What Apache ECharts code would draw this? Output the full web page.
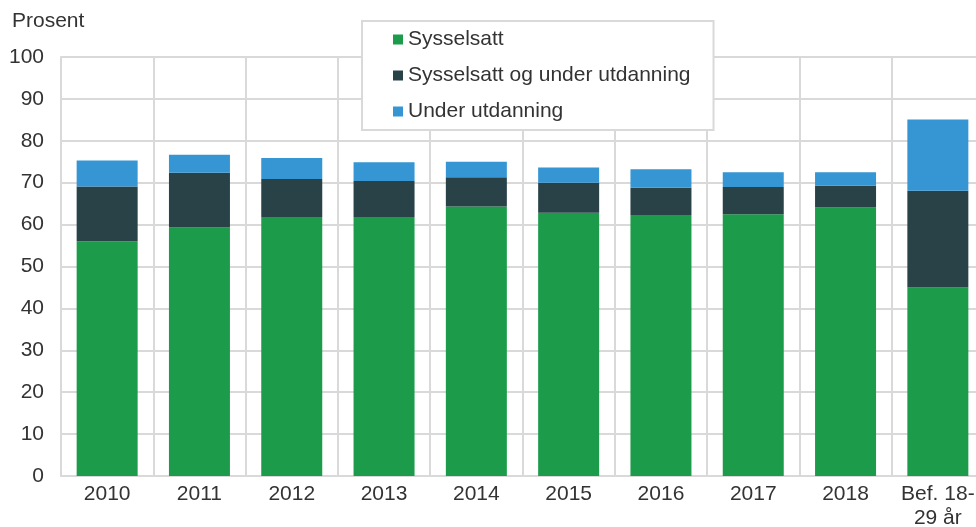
<!DOCTYPE html>
<html>
<head>
<meta charset="utf-8">
<script src="https://cdn.jsdelivr.net/npm/echarts@6/dist/echarts.min.js"></script>
<style>
  html, body { margin: 0; padding: 0; background: #fff; }
  #chart { width: 976px; height: 527px; }
</style>
</head>
<body>
<div id="chart"></div>
<script>
const categories = ['2010', '2011', '2012', '2013', '2014', '2015', '2016', '2017', '2018', 'Bef. 18-\n29 år'];
const sysselsatt = [56.0, 59.3, 61.8, 61.8, 64.3, 62.8, 62.3, 62.5, 64.1, 45.0];
const sysselsattUtdanning = [13.1, 13.1, 9.1, 8.6, 7.0, 7.2, 6.5, 6.5, 5.2, 23.1];
const underUtdanning = [6.2, 4.3, 5.0, 4.5, 3.7, 3.6, 4.4, 3.5, 3.2, 17.0];
const yTicks = [0, 10, 20, 30, 40, 50, 60, 70, 80, 90, 100];

const font = 'Liberation Sans, Arial, sans-serif';
const textColor = '#333333';
const gridColor = '#d9d9d9';

const chart = echarts.init(document.getElementById('chart'));

function barSeries(name, data, color) {
  return {
    name: name,
    type: 'bar',
    stack: 'total',
    data: data,
    barWidth: 61,
    itemStyle: { color: color },
    emphasis: { disabled: true }
  };
}

chart.setOption({
  animation: false,
  textStyle: { fontFamily: font },
  title: {
    text: 'Prosent',
    left: 12,
    top: 11,
    padding: 0,
    textStyle: { fontSize: 21, fontWeight: 'normal', color: textColor, fontFamily: font }
  },
  legend: {
    orient: 'vertical',
    left: 362,
    top: 21,
    z: 10,
    backgroundColor: '#ffffff',
    borderColor: gridColor,
    borderWidth: 2,
    padding: [8, 23, 8, 31],
    itemGap: 15,
    itemWidth: 10,
    itemHeight: 10,
    icon: 'rect',
    selectedMode: false,
    textStyle: { fontSize: 21, color: textColor, fontFamily: font, lineHeight: 21 },
    data: ['Sysselsatt', 'Sysselsatt og under utdanning', 'Under utdanning']
  },
  grid: { left: 61, right: -8, top: 57, bottom: 51, containLabel: false, outerBoundsMode: 'none' },
  xAxis: {
    type: 'category',
    data: categories,
    axisLine: { show: true, lineStyle: { color: gridColor, width: 2 } },
    axisTick: { show: false },
    splitLine: { show: true, lineStyle: { color: gridColor, width: 2 } },
    axisLabel: {
      color: textColor, fontSize: 21, fontFamily: font, margin: 6,
      lineHeight: 24, interval: 0
    }
  },
  yAxis: {
    type: 'value',
    min: yTicks[0],
    max: yTicks[yTicks.length - 1],
    interval: 10,
    axisLine: { show: true, lineStyle: { color: gridColor, width: 2 } },
    axisTick: { show: false },
    splitLine: { show: true, lineStyle: { color: gridColor, width: 2 } },
    axisLabel: { color: textColor, fontSize: 21, fontFamily: font, margin: 17 }
  },
  series: [
    barSeries('Sysselsatt', sysselsatt, '#1c9c4a'),
    barSeries('Sysselsatt og under utdanning', sysselsattUtdanning, '#284248'),
    barSeries('Under utdanning', underUtdanning, '#3596d3')
  ]
});
</script>
</body>
</html>
